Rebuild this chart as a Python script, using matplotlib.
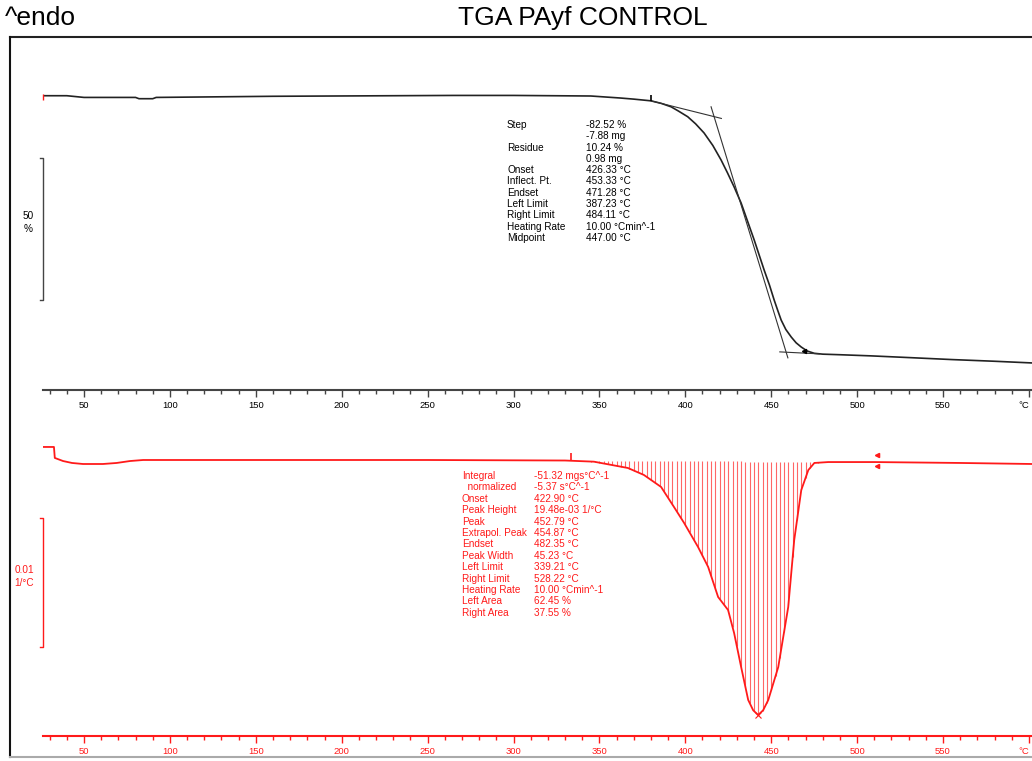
import numpy as np
import matplotlib.pyplot as plt
from matplotlib.lines import Line2D

W, H = 1032, 761

# TGA curve (temperature in C, mass in %)
tga_temp = [26, 40, 50, 80, 82, 90, 92, 160, 265, 300, 345, 362, 370, 380, 386,
            391.7, 396, 401.4, 406, 410.9, 416, 420.8, 424.5, 428.4, 432.5, 436.3,
            440.1, 443, 445.9, 449, 451.7, 453.8, 455.8, 458.5, 461.7, 464.5,
            467.5, 471, 475.1, 480, 490, 508, 530, 555, 580, 602]
tga_mass = [100.1, 100.1, 99.5, 99.5, 99.05, 99.05, 99.5, 99.9, 100.2, 100.2, 100.0,
            99.3, 98.9, 98.3, 97.4, 96.2, 94.7, 92.7, 90.2, 87.0, 82.6, 77.5, 73.0,
            68.0, 62.3, 55.8, 49.3, 44.0, 38.7, 33.4, 28.2, 24.5, 21.1, 17.8, 15.1,
            13.1, 11.6, 10.2, 9.4, 9.1, 8.9, 8.5, 7.9, 7.2, 6.6, 6.0]

# tangent lines used for onset / endset
tan_upper_t = [380, 421]
tan_upper_m = [98.3, 92.1]
tan_infl_t = [415, 459.7]
tan_infl_m = [96.2, 7.8]
tan_lower_t = [455, 478]
tan_lower_m = [9.9, 9.2]

# DTG curve (temperature in C, rate in 1/C)
dtg_temp = [26, 32.5, 33, 37.8, 43, 49.4, 61, 69, 76.8, 84.4, 250, 330, 346.8, 366.6,
            375.9, 385.9, 393.4, 399.3, 407.4, 413.3, 419.1, 424.9, 428.4, 432.5,
            436.6, 439.5, 442.4, 445.3, 448.3, 454.1, 459.9, 463.4, 467.5, 471.6,
            475.1, 483.2, 510, 560, 602]
dtg_rate = [0.00101, 0.00101, 0.00016, -0.00008, -0.00023, -0.00031, -0.00031,
            -0.00023, -0.00008, 0.0, 0.0, -0.00004, -0.00013, -0.00062, -0.00116,
            -0.00209, -0.00364, -0.00488, -0.00674, -0.00829, -0.01062, -0.01163,
            -0.01341, -0.01605, -0.0186, -0.0194, -0.01977, -0.0194, -0.0186,
            -0.01605, -0.0114, -0.0062, -0.00233, -0.00078, -0.00023, -0.00016,
            -0.00016, -0.00023, -0.00031]

left_limit = 333.4
right_limit = 511.8

major_ticks = [50, 100, 150, 200, 250, 300, 350, 400, 450, 500, 550, 600]
major_labels = ["50", "100", "150", "200", "250", "300", "350", "400", "450",
                "500", "550", "°C"]
minor_ticks = [t for t in range(30, 601, 10) if t % 50]

step_names = ["Step", "", "Residue", "", "Onset", "Inflect. Pt.", "Endset",
              "Left Limit", "Right Limit", "Heating Rate", "Midpoint"]
step_values = ["-82.52 %", "-7.88 mg", "10.24 %", "0.98 mg", "426.33 °C",
               "453.33 °C", "471.28 °C", "387.23 °C", "484.11 °C",
               "10.00 °Cmin^-1", "447.00 °C"]

peak_names = ["Integral", "  normalized", "Onset", "Peak Height", "Peak",
              "Extrapol. Peak", "Endset", "Peak Width", "Left Limit",
              "Right Limit", "Heating Rate", "Left Area", "Right Area"]
peak_values = ["-51.32 mgs°C^-1", "-5.37 s°C^-1", "422.90 °C",
               "19.48e-03 1/°C", "452.79 °C", "454.87 °C", "482.35 °C",
               "45.23 °C", "339.21 °C", "528.22 °C", "10.00 °Cmin^-1",
               "62.45 %", "37.55 %"]

plt.rcParams["font.family"] = ["Liberation Sans", "DejaVu Sans"]

fig = plt.figure(figsize=(W / 100, H / 100), dpi=100)


def fx(x):
    return x / W


def fy(y):
    return 1 - y / H


RED = "#ff1a1a"
AX_GRAY = "#444444"
FS = 7.2

ax1 = fig.add_axes([fx(43), fy(390), 1 - fx(43), (390 - 40) / H])
ax2 = fig.add_axes([fx(43), fy(736), 1 - fx(43), (736 - 440) / H])

for ax, col, lab_col in [(ax1, AX_GRAY, "black"), (ax2, RED, RED)]:
    ax.set_xlim(26.13, 601.8)
    ax.patch.set_visible(False)
    for s in ["top", "left", "right"]:
        ax.spines[s].set_visible(False)
    ax.spines["bottom"].set_color(col)
    ax.spines["bottom"].set_linewidth(1.5)
    ax.set_yticks([])
    ax.set_xticks(major_ticks)
    ax.set_xticklabels(major_labels)
    ax.set_xticks(minor_ticks, minor=True)
    ax.tick_params(axis="x", which="major", length=5, width=1, color=col,
                   labelcolor=lab_col, labelsize=6.8, pad=3)
    ax.tick_params(axis="x", which="minor", length=3, width=1, color=col)
    # unit label sits at the right edge, keep it inside the picture
    ax.get_xticklabels()[-1].set_horizontalalignment("right")

ax1.set_ylim(-3.52, 119.72)
ax2.set_ylim(-0.021395, 0.00155)

# TGA curve and tangents
ax1.plot(tga_temp, tga_mass, color="#222222", lw=1.2)
for tt, mm in [(tan_upper_t, tan_upper_m), (tan_infl_t, tan_infl_m),
               (tan_lower_t, tan_lower_m)]:
    ax1.plot(tt, mm, color="#333333", lw=0.8)
ax1.plot([380], [99.2], marker="|", color="black", ms=5, mew=1.2)
ax1.plot([469], [10.3], marker="<", color="black", ms=3)
ax1.plot([26.3], [99.8], marker="|", color=RED, ms=4, mew=1, clip_on=False)

# scale bar 50 %
ax1.plot([24.4, 26.3, 26.3, 24.4], [78.2, 78.2, 28.2, 28.2], color=AX_GRAY,
         lw=1, clip_on=False)
fig.text(fx(28), fy(216), "50", ha="center", va="center", fontsize=FS)
fig.text(fx(28), fy(229), "%", ha="center", va="center", fontsize=FS)

# DTG curve with hatched area
hx = np.arange(335, right_limit, 2.5)
hy = np.interp(hx, dtg_temp, dtg_rate)
base = np.interp(hx, [left_limit, right_limit],
                 np.interp([left_limit, right_limit], dtg_temp, dtg_rate))
ax2.vlines(hx, base, np.minimum(hy, base), color="#ff6666", lw=0.8)
ax2.plot(dtg_temp, dtg_rate, color=RED, lw=1.3)
ax2.plot([left_limit], [0.0002], marker="|", color=RED, ms=6, mew=1.2)
ax2.plot([right_limit, right_limit], [0.00035, -0.0005], marker="<",
         ls="none", color=RED, ms=3)
ax2.plot([442.4], [-0.01977], marker="x", color=RED, ms=4, mew=0.8)

# scale bar 0.01 1/C
ax2.plot([24.4, 26.3, 26.3, 24.4], [-0.0045, -0.0045, -0.0145, -0.0145],
         color=RED, lw=1, clip_on=False)
fig.text(fx(24), fy(570), "0.01", ha="center", va="center", fontsize=FS,
         color=RED)
fig.text(fx(24), fy(583), "1/°C", ha="center", va="center", fontsize=FS,
         color=RED)

# result texts
for i, (n, v) in enumerate(zip(step_names, step_values)):
    y = 125 + i * 11.3
    fig.text(fx(507), fy(y), n, ha="left", va="center", fontsize=FS)
    fig.text(fx(586), fy(y), v, ha="left", va="center", fontsize=FS)

for i, (n, v) in enumerate(zip(peak_names, peak_values)):
    y = 476 + i * 11.4
    fig.text(fx(462), fy(y), n, ha="left", va="center", fontsize=FS, color=RED)
    fig.text(fx(534), fy(y), v, ha="left", va="center", fontsize=FS, color=RED)

# titles and frame
fig.text(fx(583), fy(18), "TGA PAyf CONTROL", ha="center", va="center",
         fontsize=19)
fig.text(fx(5), fy(18), "^endo", ha="left", va="center", fontsize=19)
fig.add_artist(Line2D([fx(10), 1], [fy(37), fy(37)], color="#222222", lw=1.5))
fig.add_artist(Line2D([fx(10), fx(10)], [fy(37), fy(757)], color="#111111",
                      lw=1.5))
fig.add_artist(Line2D([fx(10), 1], [fy(757), fy(757)], color="#aaaaaa", lw=1.5))

fig.savefig("out.png", dpi=100)
